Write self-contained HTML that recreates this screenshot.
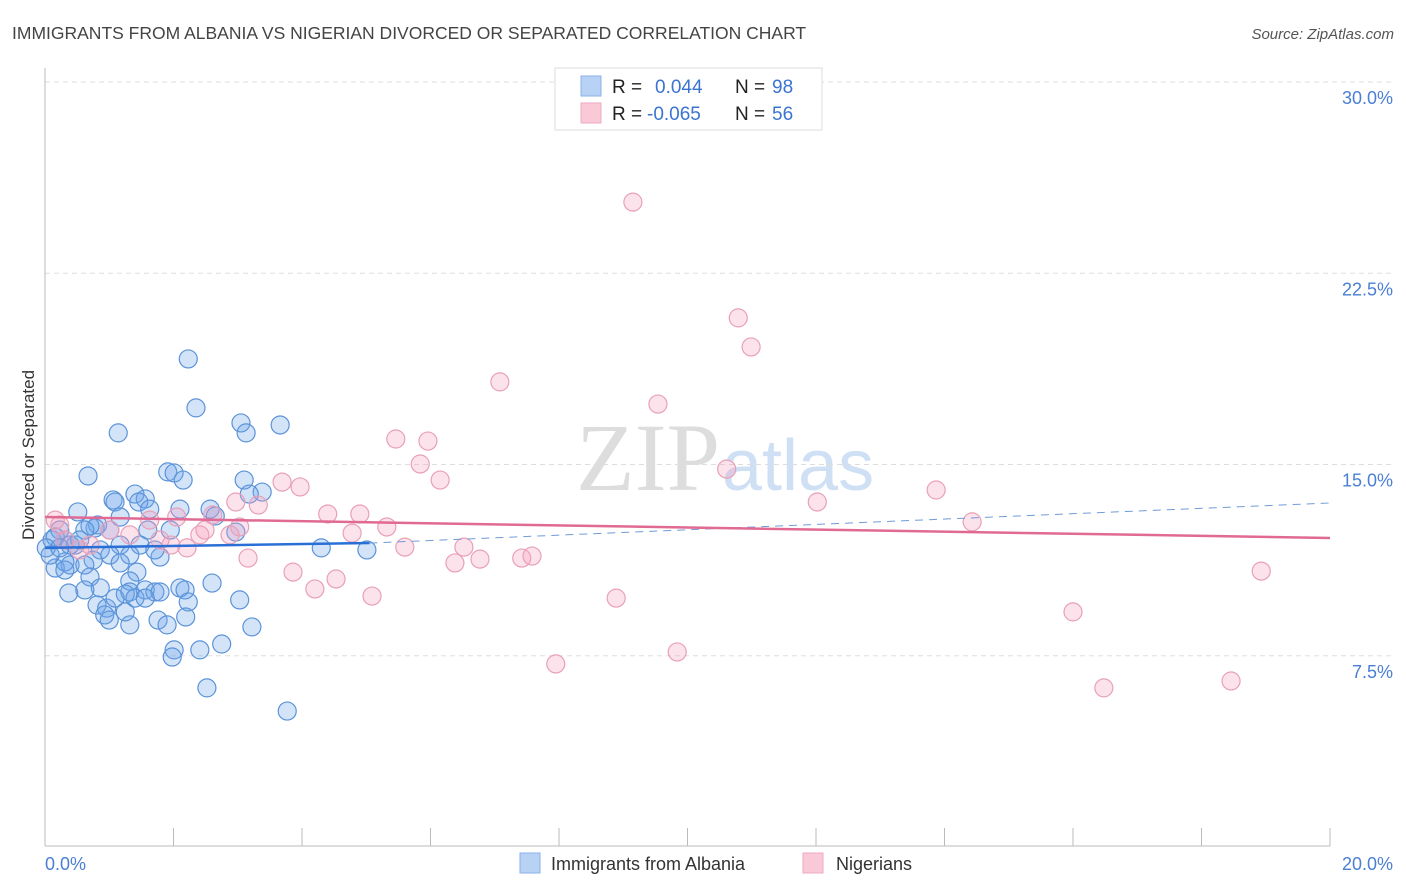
<!DOCTYPE html>
<html><head><meta charset="utf-8"><style>
body{margin:0;background:#fff;font-family:"Liberation Sans",sans-serif}
svg{display:block}
</style></head><body>
<svg id="chart" width="1406" height="892" xmlns="http://www.w3.org/2000/svg">
<text x="12" y="39" font-size="17.5" fill="#444">IMMIGRANTS FROM ALBANIA VS NIGERIAN DIVORCED OR SEPARATED CORRELATION CHART</text>
<text x="1394" y="39" font-size="15" fill="#555" font-style="italic" text-anchor="end">Source: ZipAtlas.com</text>
<text x="720" y="490" font-size="96" fill="#ddd" text-anchor="end" font-family="Liberation Serif,serif">ZIP</text>
<text x="722" y="490" font-size="72" fill="#cfe0f5">atlas</text>
<g id="grid"></g>
<line x1="45" y1="68" x2="45" y2="846" stroke="#bbb"/>
<line x1="45" y1="846" x2="1330" y2="846" stroke="#bbb"/>
<text x="34" y="455" font-size="17" fill="#333" text-anchor="middle" transform="rotate(-90 34 455)">Divorced or Separated</text>
<text x="45" y="870" font-size="18" fill="#4a7fd4">0.0%</text>
<text x="1393" y="870" font-size="18" fill="#4a7fd4" text-anchor="end">20.0%</text>
<g id="pts"></g>
<g id="lines"></g>
<rect x="555" y="68" width="267" height="62" fill="#fff" stroke="#ddd"/>
<rect x="581" y="76" width="20" height="20" fill="#b8d2f5" stroke="#8ab2e8"/>
<rect x="581" y="103" width="20" height="20" fill="#f9c9d8" stroke="#eea9c0"/>
<g font-size="19">
<text x="612" y="93" fill="#222">R = </text><text x="655" y="93" fill="#3b73d1">0.044</text><text x="735" y="93" fill="#222">N = </text><text x="772" y="93" fill="#3b73d1">98</text>
<text x="612" y="120" fill="#222">R = </text><text x="647" y="120" fill="#3b73d1">-0.065</text><text x="735" y="120" fill="#222">N = </text><text x="772" y="120" fill="#3b73d1">56</text>
</g>
<rect x="520" y="853" width="20" height="20" fill="#b8d2f5" stroke="#8ab2e8"/>
<text x="551" y="870" font-size="18" fill="#333">Immigrants from Albania</text>
<rect x="803" y="853" width="20" height="20" fill="#f9c9d8" stroke="#eea9c0"/>
<text x="836" y="870" font-size="18" fill="#333">Nigerians</text>
</svg>
<script>
const yTicks=[7.5,15.0,22.5,30.0];
const yTickLabels=["7.5%","15.0%","22.5%","30.0%"];
const xTicks=[0,2,4,6,8,10,12,14,16,18,20];
const albaniaX=[2.23,2.35,1.14,3.05,3.13,3.66,0.67,1.91,2.01,2.15,3.10,3.38,3.18,1.06,1.09,1.40,1.56,1.46,0.51,1.63,2.10,2.57,2.65,2.97,1.17,0.82,0.78,0.70,0.23,0.62,1.01,1.60,1.95,0.11,0.31,0.47,0.16,0.39,0.54,0.86,1.17,1.48,1.79,1.71,1.32,1.01,0.75,0.39,0.16,0.31,0.62,1.17,4.30,5.01,1.43,1.32,0.70,0.37,0.86,1.32,1.56,1.71,1.25,1.40,1.79,2.10,2.18,2.60,0.81,0.96,0.93,1.00,1.32,1.76,1.90,2.23,2.19,3.22,2.01,1.98,2.41,2.75,2.52,3.77,0.31,0.08,0.02,0.23,1.25,1.56,1.09,0.62,3.03];
const albaniaY=[19.14,17.22,16.24,16.63,16.24,16.55,14.55,14.71,14.67,14.39,14.39,13.92,13.84,13.61,13.53,13.84,13.65,13.53,13.14,13.25,13.25,13.25,12.98,12.35,12.94,12.63,12.51,12.59,12.43,12.43,12.43,12.43,12.43,12.04,12.04,11.84,12.16,11.84,12.04,11.65,11.84,11.84,11.37,11.65,11.45,11.45,11.25,11.06,10.94,11.18,11.06,11.14,11.73,11.65,10.78,10.43,10.59,9.96,10.16,10.00,10.08,10.00,9.92,9.76,10.00,10.16,10.08,10.35,9.49,9.37,9.10,8.90,8.71,8.90,8.71,9.61,9.02,8.63,7.73,7.45,7.73,7.96,6.24,5.33,10.86,11.45,11.73,11.73,9.22,9.76,9.76,10.08,9.69];
const nigerX=[9.15,10.79,10.99,7.08,9.54,5.46,5.96,5.84,10.61,6.15,3.69,3.97,13.87,2.97,3.32,12.02,2.61,2.05,4.40,4.90,5.32,4.78,14.43,3.03,5.60,6.52,1.96,2.21,2.41,1.32,1.01,0.23,0.16,0.31,0.54,3.16,3.86,4.53,6.38,6.77,7.42,7.58,4.20,5.09,8.89,16.0,18.93,7.95,9.84,16.48,18.46,0.70,1.63,1.79,2.88,2.49];
const nigerY=[25.29,20.75,19.61,18.24,17.37,16.0,15.92,15.02,14.82,14.39,14.31,14.12,14.0,13.53,13.41,13.53,13.02,12.94,13.06,13.06,12.55,12.31,12.75,12.55,11.76,11.76,11.84,11.73,12.24,12.24,12.43,12.63,12.82,12.04,11.65,11.33,10.78,10.51,11.14,11.29,11.33,11.41,10.12,9.84,9.76,9.22,10.82,7.18,7.65,6.24,6.51,11.84,12.82,12.04,12.24,12.43];
const albaniaTrend=[[0,11.73],[5.05,11.92],[20,13.49]];
const nigerTrend=[[0,12.94],[20,12.12]];
const NS="http://www.w3.org/2000/svg";
const X=v=>45+v/20*1285;
const Y=v=>847-v*25.5;
function mk(tag,attrs,parent){const e=document.createElementNS(NS,tag);for(const k in attrs)e.setAttribute(k,attrs[k]);parent.appendChild(e);return e;}
const grid=document.getElementById('grid'),pts=document.getElementById('pts'),lines=document.getElementById('lines'),svg=document.getElementById('chart');
yTicks.forEach((t,i)=>{
 const l=mk('line',{x1:45,x2:1393,y1:Y(t),y2:Y(t),stroke:'#ddd','stroke-dasharray':'5,4'},grid);
 
 
 const tx=mk('text',{x:1393,y:Y(t)+22,'font-size':18,fill:'#4a7fd4','text-anchor':'end'},svg);
 tx.textContent=yTickLabels[i];
 
 
});
xTicks.forEach(t=>{
 const l=mk('line',{x1:X(t),x2:X(t),y1:828,y2:846,stroke:'#bbb'},grid);
 
 
});
albaniaX.forEach((x,i)=>{
 const c=mk('circle',{cx:X(x),cy:Y(albaniaY[i]),r:9,fill:'rgba(110,165,235,0.3)',stroke:'#5b93d8','stroke-width':1.2},pts);
 
 
});
nigerX.forEach((x,i)=>{
 const c=mk('circle',{cx:X(x),cy:Y(nigerY[i]),r:9,fill:'rgba(245,160,190,0.3)',stroke:'#e8a0b8','stroke-width':1.2},pts);
 
 
});
const a=albaniaTrend;
const l1=mk('line',{x1:X(a[0][0]),y1:Y(a[0][1]),x2:X(a[1][0]),y2:Y(a[1][1]),stroke:'#2a6fd6','stroke-width':2.5},lines);


const l2=mk('line',{x1:X(a[1][0]),y1:Y(a[1][1]),x2:X(a[2][0]),y2:Y(a[2][1]),stroke:'#6f9bd8','stroke-width':1,'stroke-dasharray':'8,6'},lines);


const n=nigerTrend;
const l3=mk('line',{x1:X(n[0][0]),y1:Y(n[0][1]),x2:X(n[1][0]),y2:Y(n[1][1]),stroke:'#e06a93','stroke-width':2.5},lines);


</script>
</body></html>
